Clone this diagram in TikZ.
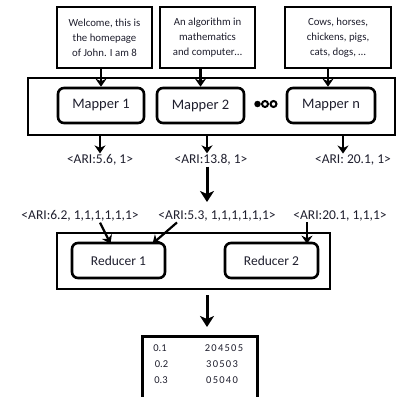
\documentclass[tikz,border=0pt]{standalone}
\usepackage{fontspec}
\setmainfont{Carlito}
\usetikzlibrary{arrows.meta}
\definecolor{txt}{rgb}{0.12,0.12,0.18}
\begin{document}
\begin{tikzpicture}[x=1pt,y=-1pt,
  inbox/.style={draw,line width=2.6pt,minimum width=#1,minimum height=61pt,inner sep=0pt,align=center,font=\fontsize{10.8}{15}\selectfont,text=txt},
  container/.style={draw,line width=2.6pt,inner sep=0pt},
  proc/.style={draw,line width=2.6pt,rounded corners=6pt,minimum height=35pt,inner sep=0pt,font=\fontsize{14.5}{16}\selectfont,text=txt},
  lab/.style={inner sep=1pt,font=\fontsize{13.5}{15}\selectfont,text=txt},
  cell/.style={inner sep=0pt,font=\fontsize{10.5}{12}\selectfont,text=txt},
  arr/.style={line width=2.2pt,-{Stealth[length=8pt,width=11pt,inset=2.5pt]}},
  bigarr/.style={line width=3pt,-{Stealth[length=11pt,width=14pt,inset=3pt]}}]
\clip (0,0) rectangle (398,396);
\useasboundingbox (0,0) rectangle (398,396);
\fill[white] (0,0) rectangle (398,396);
% inputs
\node[inbox=95pt] (in1) at (104.5,37.5) {Welcome, this is\\the homepage\\of John. I am 8};
\node[inbox=95pt] (in2) at (207.5,37.5) {An algorithm in\\mathematics\\and computer\ldots};
\node[inbox=106pt] (in3) at (338,37.5) {Cows, horses,\\chickens, pigs,\\cats, dogs, \ldots};
% mapper container
\node[container,minimum width=367pt,minimum height=57pt] (mc) at (211.5,106.5) {};
\node[proc,minimum width=86pt] (m1) at (101,105.5) {Mapper 1};
\node[proc,minimum width=87pt] (m2) at (200.5,105.5) {Mapper 2};
\node[proc,minimum width=88pt] (mn) at (331,105.5) {Mapper n};
\node[circle,fill=black,minimum size=6.5pt,inner sep=0pt] (d1) at (257.5,104) {};
\node[circle,draw=black,line width=2pt,minimum size=6pt,inner sep=0pt] (d2) at (265,104) {};
\node[circle,draw=black,line width=2pt,minimum size=6pt,inner sep=0pt] (d3) at (273.5,104) {};
\draw[arr] (m1.north |- in1.south) -- (m1.north);
\draw[arr] (m2.north |- in2.south) -- (m2.north);
\draw[arr] ([xshift=-3pt]mn.north |- in3.south) -- ([xshift=-3pt]mn.north);
% map outputs
\node[lab] (l1) at (100,160) {<ARI:5.6, 1>};
\node[lab] (l2) at (211,160) {<ARI:13.8, 1>};
\node[lab] (l3) at (353,160) {<ARI: 20.1, 1>};
\draw[arr] (l1.north |- mc.south) -- (l1.north);
\draw[arr] ([xshift=-4pt]l2.north |- mc.south) -- ([xshift=-4pt]l2.north);
\draw[arr] ([xshift=-10pt]l3.north |- mc.south) -- ([xshift=-10pt]l3.north);
% shuffled
\node[lab] (k1) at (80,216) {<ARI:6.2, 1,1,1,1,1,1>};
\node[lab] (k2) at (217,216) {<ARI:5.3, 1,1,1,1,1,1>};
\node[lab] (k3) at (340,216) {<ARI:20.1, 1,1,1>};
\coordinate (sh) at (207,202);
\draw[bigarr] ([xshift=-4pt]l2.south) -- (sh);
% reducers
\node[container,minimum width=273pt,minimum height=56pt] (rc) at (193.5,261) {};
\node[proc,minimum width=93pt,font=\fontsize{13.5}{15}\selectfont] (r1) at (118.5,260.5) {Reducer 1};
\node[proc,minimum width=93pt,font=\fontsize{13.5}{15}\selectfont] (r2) at (271.5,260.5) {Reducer 2};
\draw[arr] ([xshift=20pt]k1.south) -- ([xshift=-8pt,yshift=-2pt]r1.north);
\draw[arr] ([xshift=-40pt]k2.south) -- ([xshift=34pt,yshift=-2pt]r1.north);
\draw[arr] ([xshift=-33pt]k3.south) -- ([xshift=-33pt,yshift=-2pt]k3.south |- r2.north);
% result
\node[container,minimum width=115pt,minimum height=70pt,anchor=north west] (tb) at (141,335) {};
\coordinate (rs) at (207,295);
\draw[bigarr] (rs) -- (207,327);
\node[cell] (a1) at (160,348) {0.1};
\node[cell] (a2) at (161.5,364) {0.2};
\node[cell] (a3) at (161,380) {0.3};
\node[cell] (b1) at (224,348) {\addfontfeature{LetterSpace=12}204505};
\node[cell] (b2) at (222,364) {\addfontfeature{LetterSpace=12}30503};
\node[cell] (b3) at (222,380) {\addfontfeature{LetterSpace=12}05040};
\end{tikzpicture}
\end{document}
